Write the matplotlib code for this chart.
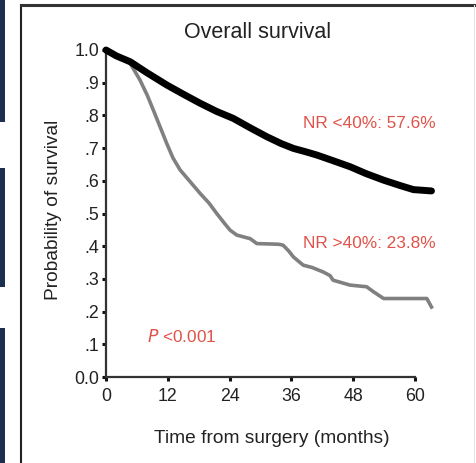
import matplotlib
matplotlib.use("Agg")
import matplotlib.pyplot as plt
from matplotlib.patches import Rectangle
from matplotlib.lines import Line2D

plt.rcParams['font.family'] = ['Liberation Sans', 'DejaVu Sans']

# Kaplan-Meier estimates, overall survival by nodal ratio group
months_low = [0, 2, 4.7, 8, 11.8, 15, 18.3, 21.5, 24.7, 28, 31.2, 34, 36.4, 38.5,
              40.9, 44, 47.4, 50.5, 53.9, 57, 59.7, 61.5, 63.2]
surv_low = [1.0, 0.982, 0.964, 0.93, 0.893, 0.865, 0.837, 0.812, 0.791, 0.762,
            0.735, 0.714, 0.699, 0.69, 0.679, 0.662, 0.643, 0.622, 0.602, 0.586,
            0.573, 0.571, 0.569]

months_high = [0, 2.5, 4.7, 6.6, 8, 9.2, 10.5, 11.8, 13, 14.4, 16.3, 18.3, 20, 21.5,
               23, 24.1, 25.4, 28.0, 29.3, 33.5, 34.4, 35.5, 36.4, 38.3, 40, 42.2,
               43.5, 44.1, 47.4, 50.6, 52, 53.9, 62.3, 63.2]
surv_high = [1.0, 0.98, 0.959, 0.908, 0.862, 0.816, 0.765, 0.714, 0.67, 0.633,
             0.598, 0.561, 0.532, 0.500, 0.47, 0.449, 0.434, 0.423, 0.408, 0.406,
             0.403, 0.385, 0.367, 0.342, 0.335, 0.321, 0.31, 0.296, 0.281, 0.276,
             0.26, 0.240, 0.240, 0.214]

x_ticks = [0, 12, 24, 36, 48, 60]
y_ticks = [0.0, 0.1, 0.2, 0.3, 0.4, 0.5, 0.6, 0.7, 0.8, 0.9, 1.0]
y_tick_labels = ['0.0', '.1', '.2', '.3', '.4', '.5', '.6', '.7', '.8', '.9', '1.0']

label_low = 'NR <40%: 57.6%'
label_high = 'NR >40%: 23.8%'

W, H = 476, 463
fig = plt.figure(figsize=(W / 100, H / 100), dpi=100)

# panel frame and neighbouring panel edges
fig.add_artist(Line2D([20.5 / W, 20.5 / W], [0, 1 - 5 / H], color='#222222', lw=1.5))
fig.add_artist(Line2D([20.5 / W, 1], [1 - 5 / H, 1 - 5 / H], color='#333333', lw=2.2))
fig.add_artist(Line2D([473.5 / W, 473.5 / W], [0, 1 - 5 / H], color='#e4e4e4', lw=0.8))
for y0, y1, c in [(0, 122, '#1d2f4f'), (168, 287, '#1d2f4f'), (328, 463, '#1d2f4f')]:
    fig.add_artist(Rectangle((0, 1 - y1 / H), 4.5 / W, (y1 - y0) / H,
                             color=c, lw=0))

# axes placed so that x=0..64 and y=0..1.02 map onto the panel
x0_px, x_per_month = 106, 5.15
y0_px, y_per_unit = 377, 327
xmax, ymax = 64.5, 1.025
left = x0_px / W
width = xmax * x_per_month / W
bottom = 1 - y0_px / H
height = ymax * y_per_unit / H
ax = fig.add_axes([left, bottom, width, height])
ax.set_xlim(0, xmax)
ax.set_ylim(0, ymax)

ax.plot(months_high, surv_high, color='#808080', lw=2.6, solid_joinstyle='round',
        clip_on=False, zorder=3)
ax.plot(months_low, surv_low, color='black', lw=5.0, solid_capstyle='round',
        solid_joinstyle='round', clip_on=False, zorder=4)

for s in ['top', 'right']:
    ax.spines[s].set_visible(False)
for s in ['left', 'bottom']:
    ax.spines[s].set_color('#333333')
    ax.spines[s].set_linewidth(1.6)
ax.spines['bottom'].set_bounds(0, 60)
ax.spines['left'].set_bounds(0, 1.0)

ax.set_xticks(x_ticks)
ax.set_xticklabels([str(t) for t in x_ticks])
ax.set_yticks(y_ticks)
ax.set_yticklabels(y_tick_labels)
ax.tick_params(axis='both', direction='out', length=3, width=2.2, color='#111111',
               labelsize=12.8, labelcolor='#222222')
ax.tick_params(axis='x', pad=5)
ax.tick_params(axis='y', pad=2)

ax.set_xlabel('Time from surgery (months)', fontsize=13.8, color='#222222', labelpad=18)
ax.set_ylabel('Probability of survival', fontsize=13.8, color='#222222', labelpad=9)

fig.text(258 / W, 1 - 32 / H, 'Overall survival', fontsize=15.5, color='#222222',
         ha='center', va='center')

red = '#e0524a'
fig.text(303 / W, 1 - 123 / H, label_low, fontsize=12.4, color=red, ha='left', va='center')
fig.text(303 / W, 1 - 243 / H, label_high, fontsize=12.4, color=red, ha='left', va='center')
fig.text(147 / W, 1 - 337 / H, '$P$ <0.001', fontsize=12.4, color=red,
         ha='left', va='center')

fig.savefig('out.png', dpi=100)
